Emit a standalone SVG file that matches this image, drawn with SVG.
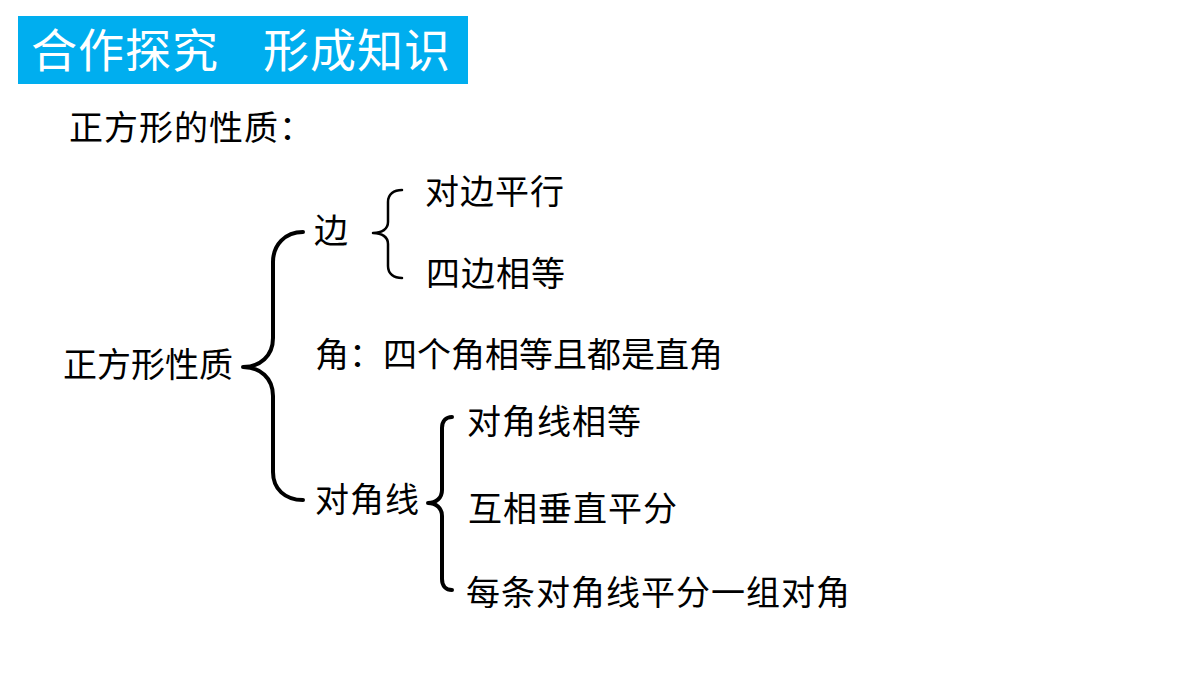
<svg xmlns="http://www.w3.org/2000/svg" width="1200" height="675" viewBox="0 0 1200 675">
<style>
.t{font-family:"Liberation Serif","Noto Sans CJK SC",serif;font-size:34px;fill:#000;letter-spacing:1px}
.n{letter-spacing:0}
.h{font-family:"Liberation Serif","Noto Sans CJK SC",serif;font-size:46px;fill:#fff;letter-spacing:1px}
.br{fill:none;stroke:#000;stroke-linecap:round;stroke-linejoin:round}
</style>
<rect width="1200" height="675" fill="#fff"/>
<g id="header">
<rect x="18" y="16" width="450" height="68" fill="#00AEEF"/>
<text class="h" x="31" y="67">合作探究</text>
<text class="h" x="263" y="67">形成知识</text>
</g>
<g id="subtitle"><text class="t" x="69" y="140">正方形的性质：</text></g>
<g id="root"><text class="t n" x="63" y="377">正方形性质</text></g>
<g id="side"><text class="t" x="314" y="243">边</text></g>
<g id="side1"><text class="t" x="425" y="204">对边平行</text></g>
<g id="side2"><text class="t" x="426" y="286">四边相等</text></g>
<g id="angle"><text class="t n" x="315" y="367">角：四个角相等且都是直角</text></g>
<g id="diag"><text class="t" x="315" y="512">对角线</text></g>
<g id="diag1"><text class="t" x="467" y="434">对角线相等</text></g>
<g id="diag2"><text class="t" x="468" y="521">互相垂直平分</text></g>
<g id="diag3"><text class="t" x="466" y="605">每条对角线平分一组对角</text></g>
<g id="connectors">
<path class="br" stroke-width="4" d="M303,232 C285,232 273,245 273,262 L273,338 C273,356 260,367 243,367 C260,367 273,378 273,396 L273,472 C273,489 285,500 303,500"/>
<path class="br" stroke-width="2.5" d="M402,190 C394,190 388,194 388,202 L388,222 C388,229 382,233 373,233 C382,233 388,237 388,244 L388,266 C388,274 394,278 402,278"/>
<path class="br" stroke-width="4" d="M452,417 C446,417 442,421 442,428 L442,490 C442,498 436,503 428,503 C436,503 442,508 442,516 L442,579 C442,586 446,590 452,590"/>
</g>
</svg>
